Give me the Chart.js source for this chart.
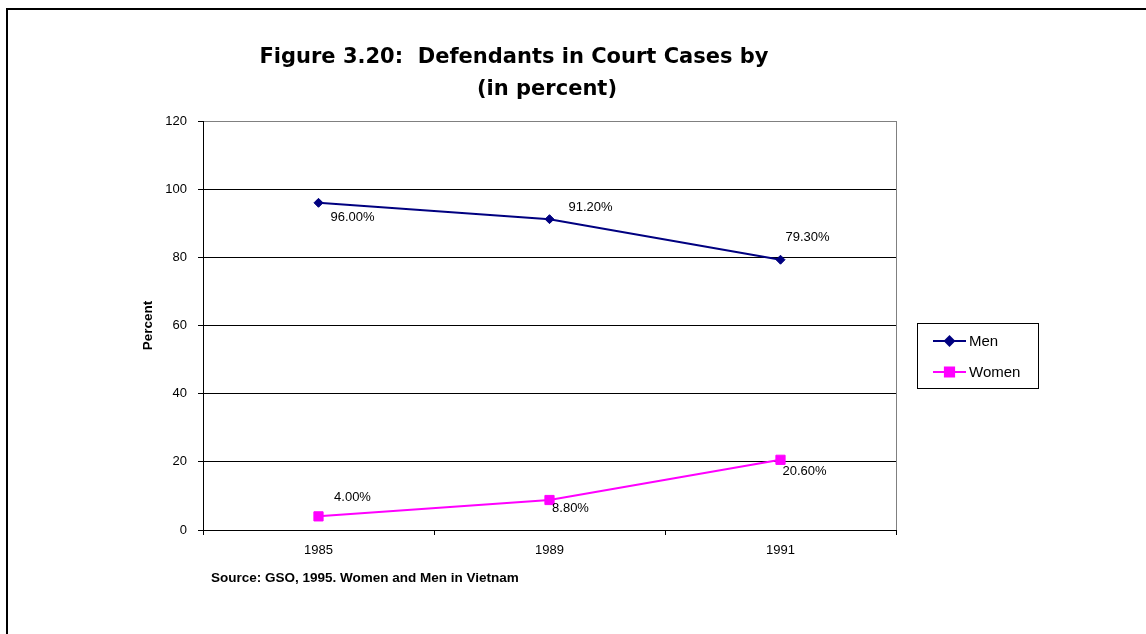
<!DOCTYPE html>
<html>
<head>
<meta charset="utf-8">
<title>Defendants in Court Cases</title>
<script src="https://cdn.jsdelivr.net/npm/chart.js@4.4.0/dist/chart.umd.min.js"></script>
<style>
    html, body { margin: 0; padding: 0; background: #fff; }
    #wrap { width: 1146px; height: 634px; }
</style>
</head>
<body>
<div id="wrap"><canvas id="chart" width="1146" height="634"></canvas></div>
<script>
const years = ['1985', '1989', '1991'];
const men = [96.0, 91.2, 79.3];
const women = [4.0, 8.8, 20.6];
const yTicks = [0, 20, 40, 60, 80, 100, 120];
const seriesNames = ['Men', 'Women'];
const titleLines = ['Figure 3.20:  Defendants in Court Cases by', '(in percent)'];
const yTitle = 'Percent';
const sourceNote = 'Source: GSO, 1995. Women and Men in Vietnam';

const sans = '"Liberation Sans", Arial, sans-serif';

// where each value label sits, relative to its point (Excel placed them by hand)
const labelOffsets = [
    [[34, 15], [41, -12], [27, -22]],
    [[34, -19], [21, 8], [24, 12]],
];

const decorations = {
    id: 'decorations',
    beforeDraw(chart) {
        const ctx = chart.ctx;
        ctx.save();
        ctx.fillStyle = '#fff';
        ctx.fillRect(0, 0, chart.width, chart.height);
        // outer frame, runs off the right and bottom edge
        ctx.strokeStyle = '#000';
        ctx.lineWidth = 2;
        ctx.beginPath();
        ctx.moveTo(7, chart.height + 5);
        ctx.lineTo(7, 9);
        ctx.lineTo(chart.width + 5, 9);
        ctx.stroke();
        ctx.restore();
    },
    afterDraw(chart) {
        const ctx = chart.ctx;
        const area = chart.chartArea;
        ctx.save();

        // grey right edge of the plot area
        ctx.strokeStyle = '#808080';
        ctx.lineWidth = 1;
        ctx.beginPath();
        ctx.moveTo(area.right + 0.5, area.top);
        ctx.lineTo(area.right + 0.5, area.bottom);
        ctx.stroke();

        // title
        ctx.fillStyle = '#000';
        ctx.textAlign = 'center';
        ctx.textBaseline = 'alphabetic';
        ctx.font = 'bold 21px "DejaVu Sans", Verdana, sans-serif';
        ctx.fillText(titleLines[0], 514, 63);
        ctx.fillText(titleLines[1], 547, 95);

        // y axis title
        ctx.font = 'bold 13.5px ' + sans;
        ctx.save();
        ctx.translate(148, (area.top + area.bottom) / 2);
        ctx.rotate(-Math.PI / 2);
        ctx.textBaseline = 'middle';
        ctx.fillText(yTitle, 0, 0);
        ctx.restore();

        // source
        ctx.textAlign = 'left';
        ctx.textBaseline = 'middle';
        ctx.font = 'bold 13.5px ' + sans;
        ctx.fillText(sourceNote, 211, 578);

        // value labels
        ctx.font = '13px ' + sans;
        ctx.textAlign = 'center';
        chart.data.datasets.forEach((ds, i) => {
            chart.getDatasetMeta(i).data.forEach((pt, j) => {
                const [dx, dy] = labelOffsets[i][j];
                ctx.fillText(ds.data[j].toFixed(2) + '%', pt.x + dx, pt.y + dy);
            });
        });

        // legend
        const box = { x: 917, y: 323, w: 121, h: 65 };
        ctx.strokeStyle = '#000';
        ctx.lineWidth = 1;
        ctx.strokeRect(box.x + 0.5, box.y + 0.5, box.w, box.h);
        ctx.font = '15px ' + sans;
        ctx.textAlign = 'left';
        chart.data.datasets.forEach((ds, i) => {
            const y = box.y + 18 + i * 31;
            ctx.strokeStyle = ds.borderColor;
            ctx.lineWidth = 2;
            ctx.beginPath();
            ctx.moveTo(933, y);
            ctx.lineTo(966, y);
            ctx.stroke();
            ctx.fillStyle = ds.pointBackgroundColor;
            ctx.strokeStyle = ds.pointBorderColor;
            Chart.helpers.drawPoint(ctx, {
                pointStyle: ds.pointStyle,
                radius: ds.pointRadius,
                rotation: 0,
                borderWidth: 1,
            }, 949.5, y);
            ctx.fillStyle = '#000';
            ctx.fillText(ds.label, 969, y + 1);
        });

        ctx.restore();
    },
};

new Chart(document.getElementById('chart'), {
    type: 'line',
    data: {
        labels: years,
        datasets: [
            {
                label: seriesNames[0],
                data: men,
                borderColor: '#000080',
                borderWidth: 2,
                pointStyle: 'rectRot',
                pointRadius: 4.5,
                pointBackgroundColor: '#000080',
                pointBorderColor: '#000080',
                pointBorderWidth: 1,
            },
            {
                label: seriesNames[1],
                data: women,
                borderColor: '#ff00ff',
                borderWidth: 2,
                pointStyle: 'rect',
                pointRadius: 6.5,
                pointBackgroundColor: '#ff00ff',
                pointBorderColor: '#ff00ff',
                pointBorderWidth: 1,
            },
        ],
    },
    options: {
        responsive: false,
        animation: false,
        devicePixelRatio: 1,
        layout: {
            padding: { left: 0, top: 121, right: 250, bottom: 74 },
        },
        plugins: {
            legend: { display: false },
            title: { display: false },
            tooltip: { enabled: false },
        },
        scales: {
            x: {
                offset: true,
                grid: {
                    offset: true,
                    drawOnChartArea: false,
                    tickLength: 5,
                    color: '#000',
                },
                border: { color: '#000', width: 1 },
                ticks: {
                    color: '#000',
                    padding: 8,
                    font: { family: sans, size: 13 },
                },
                afterFit: (scale) => { scale.height = 30; },
            },
            y: {
                min: 0,
                max: 120,
                afterBuildTicks: (scale) => {
                    scale.ticks = yTicks.map((v) => ({ value: v }));
                },
                grid: {
                    color: (ctx) => (ctx.tick && ctx.tick.value === 120 ? '#808080' : '#000'),
                    tickColor: '#000',
                    tickLength: 5,
                },
                border: { color: '#000', width: 1 },
                ticks: {
                    color: '#000',
                    padding: 11,
                    font: { family: sans, size: 13 },
                },
                afterFit: (scale) => { scale.width = 203; },
            },
        },
    },
    plugins: [decorations],
});
</script>
</body>
</html>
